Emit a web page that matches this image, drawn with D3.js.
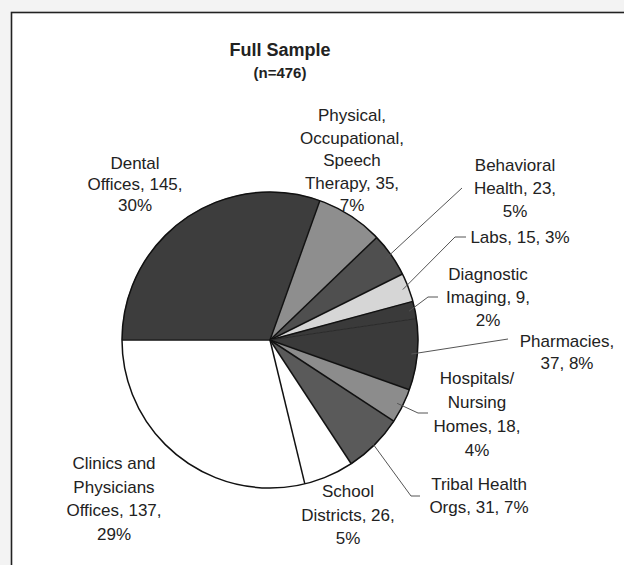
<!DOCTYPE html>
<html><head><meta charset="utf-8">
<script src="https://cdn.jsdelivr.net/npm/d3@7"></script>
<style>
html,body{margin:0;padding:0;background:#f3f3f3;}
svg{display:block;}
text{font-family:"Liberation Sans",Arial,sans-serif;fill:#222;}
</style></head>
<body>
<svg id="chart" width="624" height="565"></svg>
<script>
// ---- data ----
const categories = ["Dental Offices","Physical, Occupational, Speech Therapy","Behavioral Health","Labs","Diagnostic Imaging","Pharmacies","Hospitals/ Nursing Homes","Tribal Health Orgs","School Districts","Clinics and Physicians Offices"];
const counts = [145,35,23,15,9,37,18,31,26,137];
const percents = [30,7,5,3,2,8,4,7,5,29];
const labelLines = [
  ["Dental","Offices, 145,","30%"],
  ["Physical,","Occupational,","Speech","Therapy, 35,","7%"],
  ["Behavioral","Health, 23,","5%"],
  ["Labs, 15, 3%"],
  ["Diagnostic","Imaging, 9,","2%"],
  ["Pharmacies,","37, 8%"],
  ["Hospitals/","Nursing","Homes, 18,","4%"],
  ["Tribal Health","Orgs, 31, 7%"],
  ["School","Districts, 26,","5%"],
  ["Clinics and","Physicians","Offices, 137,","29%"]
];
const title = "Full Sample";
const subtitle = "(n=476)";

// ---- styling / layout ----
const fills = ["#3d3d3d","#8e8e8e","#4f4f4f","#d6d6d6","#3a3a3a","#3a3a3a","#8c8c8c","#5a5a5a","#ffffff","#ffffff"];
const edgeColors = ["#111","#111","#111","#111","#111","#2a2a2a","#111","#111","#111","#111"];
const labelPos = [ // x, first-line center y, line height
  [135,163,21],[352,115,22.5],[515,165,23],[520,237,23],[488,274,23],
  [567,341,22],[477,378,24],[479,484,23],[348,491,23.5],[114,463,23.5]
];
const leaderEnds = [null,null,[[462,188]],[[455,237],[466,237]],[[428,297],[438,297]],[[508,339]],[[418,413],[428,413]],[[411,496],[420,496]],null,null];

const svg = d3.select("#chart");
svg.append("rect").attr("x",11.5).attr("y",12.5).attr("width",640).attr("height",600)
  .attr("fill","#fff").attr("stroke","#222").attr("stroke-width",1.6);

svg.append("text").attr("x",280).attr("y",56).attr("text-anchor","middle")
  .style("font-size","18px").style("font-weight","bold").text(title);
svg.append("text").attr("x",280).attr("y",78).attr("text-anchor","middle")
  .style("font-size","15px").style("font-weight","bold").text(subtitle);

const cx = 270, cy = 340, R = 148;
const pie = d3.pie().sort(null).startAngle(-Math.PI/2).endAngle(1.5*Math.PI);
const arcs = pie(counts);
const arc = d3.arc().innerRadius(0).outerRadius(R);
const g = svg.append("g").attr("transform",`translate(${cx},${cy})`);
g.selectAll("path.slice").data(arcs).enter().append("path").attr("class","slice")
  .attr("d",arc).attr("fill",(d,i)=>fills[i])
  .attr("stroke",(d,i)=>fills[i]).attr("stroke-width",0.5);
// slice edges
g.selectAll("line.edge").data(arcs).enter().append("line").attr("class","edge")
  .attr("x1",0).attr("y1",0)
  .attr("x2",d=>R*Math.sin(d.startAngle)).attr("y2",d=>-R*Math.cos(d.startAngle))
  .attr("stroke",(d,i)=>edgeColors[i]).attr("stroke-width",(d,i)=>i===5?1:1.5);
g.append("circle").attr("r",R).attr("fill","none").attr("stroke","#111").attr("stroke-width",1.5);

// leader lines
arcs.forEach((d,i)=>{
  const ends = leaderEnds[i];
  if(!ends) return;
  const a = (d.startAngle+d.endAngle)/2;
  const r0 = R*0.96;
  const pts = [[cx + r0*Math.sin(a), cy - r0*Math.cos(a)]].concat(ends);
  svg.append("path").attr("d",d3.line()(pts)).attr("fill","none")
    .attr("stroke","#555").attr("stroke-width",1);
});

// labels
labelLines.forEach((lines,i)=>{
  const [x,y0,lh] = labelPos[i];
  const t = svg.append("text").attr("text-anchor","middle").style("font-size","17px");
  lines.forEach((s,j)=>{
    t.append("tspan").attr("x",x).attr("y",y0+j*lh+6).text(s);
  });
});
</script>
</body></html>
